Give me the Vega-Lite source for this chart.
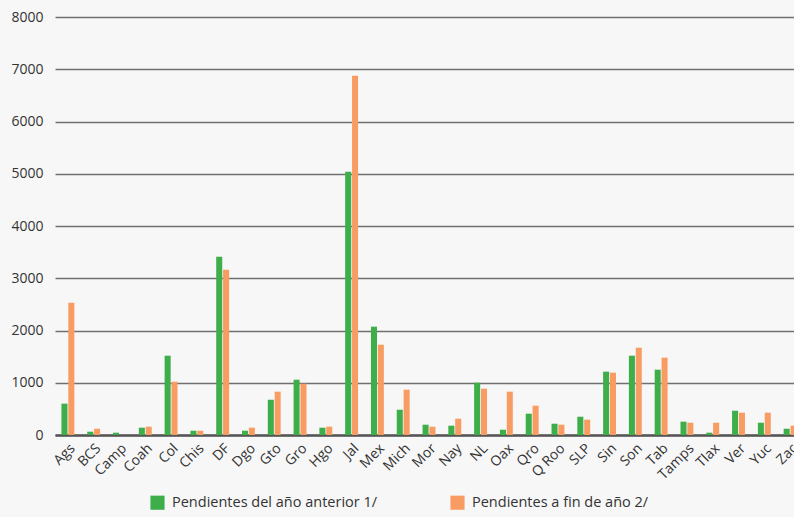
{
  "$schema": "https://vega.github.io/schema/vega-lite/v6.json",
  "autosize": "none",
  "width": 739,
  "height": 418,
  "padding": {"left": 55, "top": 17, "right": 0, "bottom": 82},
  "background": "#f7f7f7",
  "config": {
    "view": {"stroke": null},
    "font": "Open Sans"
  },
  "datasets": {
    "pendientes": [
      {"estado": "Ags", "anterior": 600, "fin": 2530},
      {"estado": "BCS", "anterior": 63, "fin": 120},
      {"estado": "Camp", "anterior": 44, "fin": 0},
      {"estado": "Coah", "anterior": 140, "fin": 160},
      {"estado": "Col", "anterior": 1518, "fin": 1020},
      {"estado": "Chis", "anterior": 82, "fin": 82},
      {"estado": "DF", "anterior": 3410, "fin": 3163},
      {"estado": "Dgo", "anterior": 82, "fin": 140},
      {"estado": "Gto", "anterior": 675, "fin": 829},
      {"estado": "Gro", "anterior": 1058, "fin": 982},
      {"estado": "Hgo", "anterior": 140, "fin": 160},
      {"estado": "Jal", "anterior": 5040, "fin": 6877},
      {"estado": "Mex", "anterior": 2073, "fin": 1728},
      {"estado": "Mich", "anterior": 484, "fin": 867},
      {"estado": "Mor", "anterior": 197, "fin": 159},
      {"estado": "Nay", "anterior": 178, "fin": 312},
      {"estado": "NL", "anterior": 1001, "fin": 886},
      {"estado": "Oax", "anterior": 101, "fin": 829},
      {"estado": "Qro", "anterior": 408, "fin": 561},
      {"estado": "Q Roo", "anterior": 216, "fin": 197},
      {"estado": "SLP", "anterior": 350, "fin": 293},
      {"estado": "Sin", "anterior": 1212, "fin": 1193},
      {"estado": "Son", "anterior": 1518, "fin": 1671},
      {"estado": "Tab", "anterior": 1250, "fin": 1480},
      {"estado": "Tamps", "anterior": 255, "fin": 235},
      {"estado": "Tlax", "anterior": 44, "fin": 235},
      {"estado": "Ver", "anterior": 465, "fin": 427},
      {"estado": "Yuc", "anterior": 235, "fin": 427},
      {"estado": "Zac", "anterior": 120, "fin": 178}
    ]
  },
  "data": {"name": "pendientes"},
  "transform": [
    {"fold": ["anterior", "fin"], "as": ["clave", "valor"]},
    {"calculate": "datum.clave === 'anterior' ? 'Pendientes del año anterior 1/' : 'Pendientes a fin de año 2/'", "as": "serie"}
  ],
  "layer": [
    {
      "mark": {"type": "bar", "clip": false},
      "encoding": {
        "x": {
          "field": "estado",
          "type": "nominal",
          "sort": null,
          "scale": {"range": [0, 748], "paddingInner": 0.5, "paddingOuter": 0.25},
          "axis": {
            "title": null,
            "labelAngle": -45,
            "labelAlign": "right",
            "labelBaseline": "top",
            "labelPadding": 6,
            "labelFont": "Open Sans",
            "labelFontSize": 14,
            "labelColor": "#333333",
            "labelOverlap": false,
            "ticks": false,
            "domain": true,
            "domainColor": "#555555",
            "domainWidth": 2.5
          }
        },
        "xOffset": {
          "field": "serie",
          "type": "nominal",
          "sort": ["Pendientes del año anterior 1/", "Pendientes a fin de año 2/"],
          "scale": {"paddingInner": 0.12}
        },
        "y": {
          "field": "valor",
          "type": "quantitative",
          "scale": {"domain": [0, 8000], "nice": false},
          "axis": {
            "title": null,
            "values": [0, 1000, 2000, 3000, 4000, 5000, 6000, 7000, 8000],
            "format": "d",
            "ticks": false,
            "domain": false,
            "labelPadding": 12,
            "labelFont": "Open Sans",
            "labelFontSize": 14,
            "labelColor": "#333333",
            "gridColor": "#6f6f6f",
            "gridWidth": 1.5
          }
        },
        "color": {
          "field": "serie",
          "type": "nominal",
          "sort": ["Pendientes del año anterior 1/", "Pendientes a fin de año 2/"],
          "scale": {"range": ["#3dae4a", "#f99c64"]},
          "legend": {
            "title": null,
            "orient": "none",
            "direction": "horizontal",
            "legendX": 95,
            "legendY": 478,
            "symbolType": "square",
            "symbolSize": 200,
            "symbolStrokeWidth": 0,
            "symbolOpacity": 1,
            "labelFont": "Open Sans",
            "labelFontSize": 14.5,
            "labelColor": "#333333",
            "labelLimit": 0,
            "labelOffset": 7,
            "columnPadding": 72
          }
        }
      }
    }
  ]
}
